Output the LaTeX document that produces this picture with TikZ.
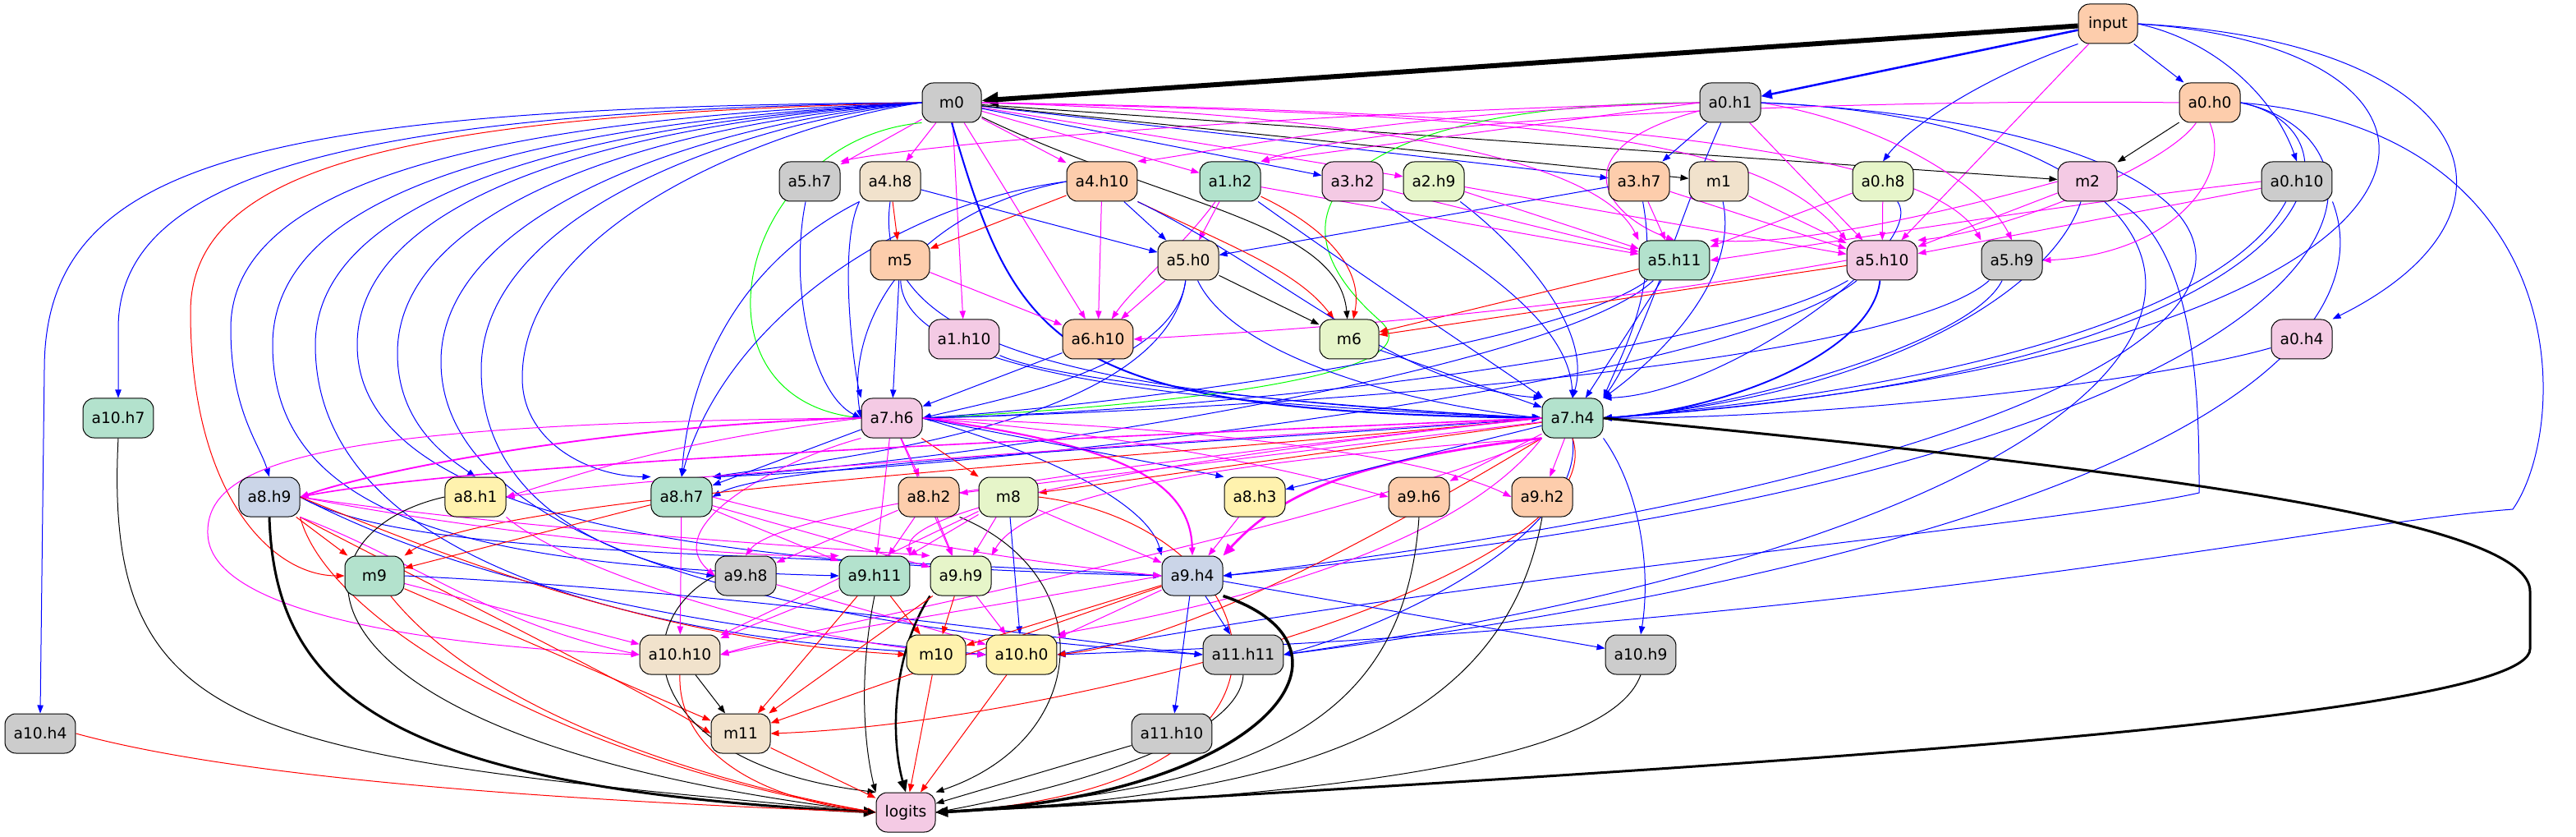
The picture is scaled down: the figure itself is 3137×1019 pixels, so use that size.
\documentclass[tikz,border=0pt]{standalone}
\usepackage{fontspec}
\setmainfont{DejaVu Sans}
\usetikzlibrary{arrows.meta}
\definecolor{pA}{HTML}{B3E2CD}
\definecolor{pB}{HTML}{FDCDAC}
\definecolor{pC}{HTML}{CBD5E8}
\definecolor{pD}{HTML}{F4CAE4}
\definecolor{pE}{HTML}{E6F5C9}
\definecolor{pF}{HTML}{FFF2AE}
\definecolor{pG}{HTML}{F1E2CC}
\definecolor{pH}{HTML}{CCCCCC}
\definecolor{cM}{RGB}{255,0,255}
\definecolor{cB}{RGB}{0,0,255}
\definecolor{cR}{RGB}{255,0,0}
\definecolor{cG}{RGB}{0,255,0}
\pgfdeclarelayer{bg}
\pgfsetlayers{bg,main}
\tikzset{
  nd/.style={draw=black, line width=0.75pt, rounded corners=10pt, minimum width=54pt, minimum height=36pt, inner xsep=7.9pt, inner ysep=0pt, font=\fontsize{14}{16}\selectfont},
  e/.style={-{Triangle[length=7.5pt,width=5.5pt]}, line width=0.75pt},
  eb/.style={e, draw=cB},
  em/.style={e, draw=cM},
  er/.style={e, draw=cR},
  ek/.style={e, draw=black},
  eg/.style={e, draw=cG},
  big/.style={-{Triangle[length=11pt,width=9pt]}},
}
\begin{document}
\begin{tikzpicture}[x=0.75pt,y=0.75pt]
\useasboundingbox (0,-1019) rectangle (3137,0);
% nodes
\node[nd,fill=pB] (input) at (2567,-29) {input};
\node[nd,fill=pH] (m0) at (1159,-125) {m0};
\node[nd,fill=pH] (a0h1) at (2107,-125) {a0.h1};
\node[nd,fill=pB] (a0h0) at (2691,-125) {a0.h0};
\node[nd,fill=pH] (a5h7) at (986,-221) {a5.h7};
\node[nd,fill=pG] (a4h8) at (1084,-221) {a4.h8};
\node[nd,fill=pB] (a4h10) at (1342,-221) {a4.h10};
\node[nd,fill=pA] (a1h2) at (1498,-221) {a1.h2};
\node[nd,fill=pD] (a3h2) at (1647,-221) {a3.h2};
\node[nd,fill=pE] (a2h9) at (1746,-221) {a2.h9};
\node[nd,fill=pB] (a3h7) at (1996,-221) {a3.h7};
\node[nd,fill=pG] (m1) at (2093,-221) {m1};
\node[nd,fill=pE] (a0h8) at (2293,-221) {a0.h8};
\node[nd,fill=pD] (m2) at (2542,-221) {m2};
\node[nd,fill=pH] (a0h10) at (2797,-221) {a0.h10};
\node[nd,fill=pB] (m5) at (1096,-317) {m5};
\node[nd,fill=pG] (a5h0) at (1447,-317) {a5.h0};
\node[nd,fill=pA] (a5h11) at (2039,-317) {a5.h11};
\node[nd,fill=pD] (a5h10) at (2292,-317) {a5.h10};
\node[nd,fill=pH] (a5h9) at (2450,-317) {a5.h9};
\node[nd,fill=pD] (a1h10) at (1174,-413) {a1.h10};
\node[nd,fill=pB] (a6h10) at (1337,-413) {a6.h10};
\node[nd,fill=pE] (m6) at (1643,-413) {m6};
\node[nd,fill=pD] (a0h4) at (2803,-413) {a0.h4};
\node[nd,fill=pA] (a10h7) at (144,-509) {a10.h7};
\node[nd,fill=pD] (a7h6) at (1086,-509) {a7.h6};
\node[nd,fill=pA] (a7h4) at (1915,-509) {a7.h4};
\node[nd,fill=pC] (a8h9) at (328,-605) {a8.h9};
\node[nd,fill=pF] (a8h1) at (579,-605) {a8.h1};
\node[nd,fill=pA] (a8h7) at (830,-605) {a8.h7};
\node[nd,fill=pB] (a8h2) at (1131,-605) {a8.h2};
\node[nd,fill=pE] (m8) at (1228,-605) {m8};
\node[nd,fill=pF] (a8h3) at (1528,-605) {a8.h3};
\node[nd,fill=pB] (a9h6) at (1728,-605) {a9.h6};
\node[nd,fill=pB] (a9h2) at (1878,-605) {a9.h2};
\node[nd,fill=pA] (m9) at (456,-701) {m9};
\node[nd,fill=pH] (a9h8) at (908,-701) {a9.h8};
\node[nd,fill=pA] (a9h11) at (1065,-701) {a9.h11};
\node[nd,fill=pE] (a9h9) at (1170,-701) {a9.h9};
\node[nd,fill=pC] (a9h4) at (1452,-701) {a9.h4};
\node[nd,fill=pG] (a10h10) at (828,-797) {a10.h10};
\node[nd,fill=pF] (m10) at (1140,-797) {m10};
\node[nd,fill=pF] (a10h0) at (1244,-797) {a10.h0};
\node[nd,fill=pH] (a11h11) at (1514,-797) {a11.h11};
\node[nd,fill=pH] (a10h9) at (1998,-797) {a10.h9};
\node[nd,fill=pH] (a10h4) at (49,-893) {a10.h4};
\node[nd,fill=pG] (m11) at (902,-893) {m11};
\node[nd,fill=pH] (a11h10) at (1427,-893) {a11.h10};
\node[nd,fill=pD] (logits) at (1103,-989) {logits};

\begin{pgfonlayer}{bg}
% input
\draw[ek, line width=4.5pt, -{Triangle[length=15pt,width=13pt]}] (input) -- (m0);
\draw[eb, line width=1.9pt, -{Triangle[length=10pt,width=8.5pt]}] (input) -- (a0h1);
\draw[eb] (input) -- (a0h0);
\draw[eb] (input.south west) .. controls (2400,-100) and (2320,-160) .. (a0h8.north);
\draw[em] (input) -- (a5h10);
\draw[eb] (input.east) .. controls (2700,-50) and (2770,-120) .. (a0h10.north);
\draw[eb] (input.east) .. controls (3020,-50) and (3100,-260) .. (a0h4.north east);
\draw[eb] (input.east) .. controls (3080,-60) and (3050,-430) .. (a7h4.east);
% m0 top
\foreach \t in {a5h7,a4h8,a4h10,a1h2,a2h9,a1h10,a6h10} \draw[em] (m0) -- (\t);
\foreach \t in {a3h2,a3h7} \draw[eb] (m0) -- (\t);
\draw[ek] (m0) -- (m1);
\draw[ek] (m0) -- (m2);
\draw[ek] (m0) .. controls (1420,-250) and (1630,-270) .. (m6);
\draw[eb, line width=1.5pt, -{Triangle[length=9pt,width=7.5pt]}] (m0.south) .. controls (1240,-430) and (1290,-500) .. (a7h4.west);
\draw[em] (m0.east) .. controls (1900,-140) and (2150,-170) .. (a5h10.north west);
\draw[em] (m0.east) .. controls (1700,-140) and (1950,-200) .. (a5h11.north west);
\draw[em] (m0.east) .. controls (1900,-135) and (2350,-180) .. (a5h9.north west);
\draw[eg] (m0.south west) .. controls (900,-170) and (830,-480) .. (a7h6.west);
% m0 left
\draw[eb] (m0.west) .. controls (300,-130) and (54,-200) .. (54,-450) -- (a10h4.north);
\draw[eb] (m0.west) .. controls (400,-135) and (144,-220) .. (144,-400) -- (a10h7.north);
\draw[er] (m0.west) .. controls (500,-140) and (232,-200) .. (232,-380) .. controls (232,-600) and (330,-701) .. (m9.west);
\draw[eb] (m0.west) .. controls (600,-145) and (281,-220) .. (281,-400) .. controls (281,-500) and (316,-540) .. (a8h9.north);
\draw[eb] (m0.west) .. controls (650,-150) and (332,-230) .. (332,-420) .. controls (332,-640) and (600,-690) .. (a9h11.west);
\draw[eb] (m0.west) .. controls (700,-150) and (384,-240) .. (384,-420) .. controls (384,-720) and (900,-790) .. (a10h0.west);
\draw[eb] (m0.west) .. controls (750,-150) and (435,-240) .. (435,-420) .. controls (435,-660) and (1000,-690) .. (a9h4.west);
\draw[eb] (m0.west) .. controls (800,-150) and (484,-250) .. (484,-430) .. controls (484,-520) and (550,-560) .. (a8h1.north);
\draw[eb] (m0.west) .. controls (850,-150) and (537,-260) .. (537,-440) .. controls (537,-720) and (1200,-780) .. (a11h11.west);
\draw[eb] (m0.west) .. controls (900,-150) and (586,-260) .. (586,-450) .. controls (586,-640) and (800,-690) .. (a9h8.west);
\draw[eb] (m0.west) .. controls (950,-150) and (636,-270) .. (636,-460) .. controls (636,-540) and (720,-580) .. (a8h7.north west);
% a0h1
\draw[eb] (a0h1) -- (a3h7);
\draw[eg] (a0h1.west) .. controls (1650,-125) and (1520,-250) .. (1680,-390) .. controls (1760,-460) and (1400,-495) .. (a7h6.east);
\draw[em] (a0h1.west) .. controls (1700,-135) and (1450,-190) .. (a4h10.north east);
\draw[em] (a0h1.west) -- (a1h2.north east);
\draw[em] (a0h1.west) .. controls (1500,-140) and (1100,-180) .. (a5h7.north east);
\draw[em] (a0h1) .. controls (1900,-180) and (1950,-260) .. (a5h11.north);
\draw[em] (a0h1) -- (a5h10);
\draw[em] (a0h1.east) .. controls (2300,-150) and (2420,-230) .. (a5h9.north);
\draw[eb] (a0h1) .. controls (2050,-250) and (2000,-420) .. (a7h4.north east);
\draw[eb] (a0h1.east) .. controls (2900,-160) and (2980,-520) .. (a9h4.east);
\draw[eb] (a0h1.east) .. controls (2800,-150) and (2900,-600) .. (a11h11.east);
% a0h0
\draw[ek] (a0h0) -- (m2);
\draw[em] (a0h0) .. controls (2640,-200) and (2450,-280) .. (a5h10.north east);
\draw[em] (a0h0.south) .. controls (2720,-220) and (2640,-310) .. (a5h9.east);
\draw[em] (a0h0.west) .. controls (2300,-120) and (1700,-140) .. (a1h2.north east);
\draw[eb] (a0h0.east) .. controls (2900,-160) and (2850,-450) .. (a7h4.east);
\draw[eb] (a0h0.east) .. controls (3140,-160) and (3130,-520) .. (3060,-620) .. controls (2800,-640) and (2300,-760) .. (a10h0.east);
\draw[eb] (a0h0.east) .. controls (2950,-170) and (2950,-560) .. (a9h4.east);
% a0h10
\draw[em] (a0h10) -- (a5h10);
\draw[em] (a0h10.west) .. controls (2500,-250) and (2200,-300) .. (a5h11.east);
\draw[eb] (a0h10) .. controls (2700,-400) and (2300,-480) .. (a7h4.east);
\draw[eb] (a0h10.south east) .. controls (2900,-400) and (2700,-650) .. (a11h11.east);
% a0h8
\draw[em] (a0h8) -- (a5h10);
\draw[em] (a0h8) -- (a5h11);
\draw[eb] (a0h8) .. controls (2350,-300) and (2100,-480) .. (a7h4.north east);
% m2
\draw[em] (m2) -- (a5h10);
\draw[em] (m2.west) .. controls (2400,-250) and (2200,-300) .. (a5h11.north east);
\draw[eb] (m2) .. controls (2500,-350) and (2300,-480) .. (a7h4.east);
\draw[eb] (m2.south east) .. controls (2678,-300) and (2678,-500) .. (2678,-600) .. controls (2500,-640) and (1800,-700) .. (a10h0.east);
% m1
\draw[em] (m1) -- (a5h10);
\draw[eb] (m1) .. controls (2120,-350) and (2000,-450) .. (a7h4.north east);
% a3h7
\draw[eb] (a3h7) -- (a5h0);
\draw[em] (a3h7) -- (a5h11);
\draw[em] (a3h7) -- (a5h10);
\draw[eb] (a3h7) .. controls (2020,-350) and (1980,-420) .. (a7h4.north east);
% a2h9
\draw[em] (a2h9) -- (a5h11);
\draw[em] (a2h9) -- (a5h10);
\draw[eb] (a2h9) .. controls (1850,-300) and (1940,-400) .. (a7h4.north);
% a3h2
\draw[em] (a3h2) -- (a5h11);
\draw[eb] (a3h2) .. controls (1760,-300) and (1910,-380) .. (a7h4.north);
% a1h2
\draw[em] (a1h2) -- (a5h0);
\draw[em] (a1h2) .. controls (1440,-300) and (1380,-350) .. (a6h10);
\draw[er] (a1h2) .. controls (1620,-280) and (1660,-330) .. (m6);
\draw[em] (a1h2) -- (a5h11);
\draw[eb] (a1h2) .. controls (1650,-330) and (1800,-430) .. (a7h4);
% a4h10
\draw[er] (a4h10) -- (m5);
\draw[em] (a4h10) -- (a6h10);
\draw[eb] (a4h10) -- (a5h0);
\draw[er] (a4h10.south east) .. controls (1500,-300) and (1580,-330) .. (m6);
\draw[eb] (a4h10.south east) .. controls (1560,-330) and (1700,-470) .. (a7h4.north west);
\draw[eb] (a4h10.west) .. controls (1100,-260) and (1030,-400) .. (a7h6.west);
\draw[eb] (a4h10.west) .. controls (1080,-250) and (880,-400) .. (a8h7.north);
% a4h8
\draw[er] (a4h8) -- (m5);
\draw[eb] (a4h8) -- (a5h0);
\draw[eb] (a4h8.south west) .. controls (1020,-300) and (1040,-450) .. (a7h6.north west);
\draw[eb] (a4h8.south) .. controls (1060,-420) and (1300,-480) .. (a7h4.west);
\draw[eb] (a4h8.south west) .. controls (900,-320) and (840,-450) .. (a8h7.north);
% a5h7
\draw[eb] (a5h7) .. controls (960,-350) and (990,-480) .. (a7h6.west);
% m5
\draw[em] (m5) -- (a6h10);
\draw[eb] (m5) -- (a7h6);
\draw[eb] (m5) .. controls (1100,-450) and (1400,-490) .. (a7h4.west);
% a5h0
\draw[em] (a5h0) -- (a6h10);
\draw[ek] (a5h0) -- (m6);
\draw[eb] (a5h0) .. controls (1430,-450) and (1200,-490) .. (a7h6.east);
\draw[eb] (a5h0) .. controls (1500,-430) and (1700,-490) .. (a7h4.west);
\draw[eb] (a5h0) .. controls (1420,-520) and (1000,-560) .. (a8h7.north east);
% a5h11
\draw[er] (a5h11) -- (m6);
\draw[eb] (a5h11) -- (a7h4);
\draw[eb] (a5h11) .. controls (1900,-420) and (1400,-490) .. (a7h6.east);
\draw[eb] (a5h11) .. controls (1900,-450) and (1200,-560) .. (a8h7.north east);
% a5h10
\draw[er] (a5h10) -- (m6);
\draw[em] (a5h10.west) .. controls (1900,-380) and (1600,-400) .. (a6h10.east);
\draw[eb, line width=1.4pt] (a5h10) .. controls (2280,-430) and (2100,-500) .. (a7h4.east);
\draw[eb] (a5h10) .. controls (2100,-430) and (1500,-500) .. (a7h6.east);
\draw[eb] (a5h10) .. controls (2100,-470) and (1200,-570) .. (a8h7.north east);
% a5h9
\draw[eb] (a5h9) .. controls (2400,-420) and (2100,-500) .. (a7h4.east);
\draw[eb] (a5h9) .. controls (2300,-450) and (1500,-500) .. (a7h6.east);
% row 5
\draw[eb] (a1h10) .. controls (1300,-470) and (1700,-500) .. (a7h4.west);
\draw[eb] (a6h10) -- (a7h6);
\draw[eb] (m6) -- (a7h4);
\draw[eb] (a0h4) .. controls (2600,-470) and (2200,-510) .. (a7h4.east);
% a7h6
\draw[em, line width=1.4pt] (a7h6.west) .. controls (800,-515) and (500,-560) .. (a8h9.east);
\draw[em] (a7h6.west) .. controls (800,-540) and (700,-580) .. (a8h1.east);
\draw[eb] (a7h6) -- (a8h7);
\draw[em] (a7h6) -- (a8h2);
\draw[er] (a7h6) -- (m8);
\draw[em, line width=1.6pt] (a7h6.east) .. controls (1350,-540) and (1450,-580) .. (a9h4.north);
\draw[eb] (a7h6.east) .. controls (1300,-560) and (1400,-620) .. (a9h4.north west);
\draw[eb] (a7h6.east) -- (a8h3.north west);
\draw[em] (a7h6.east) .. controls (1400,-530) and (1600,-580) .. (a9h6.west);
\draw[em] (a7h6.east) .. controls (1500,-520) and (1750,-560) .. (a9h2.west);
\draw[em] (a7h6) -- (a9h9);
\draw[em] (a7h6) -- (a9h11);
\draw[em] (a7h6.south west) .. controls (950,-560) and (800,-640) .. (a9h8.west);
\draw[em] (a7h6.west) .. controls (400,-515) and (250,-560) .. (253,-650) .. controls (256,-760) and (600,-790) .. (a10h10.west);
% a7h4
\draw[ek, line width=2.25pt, big] (a7h4.east) .. controls (2700,-580) and (3081,-640) .. (3081,-720) -- (3081,-790) .. controls (3081,-880) and (2000,-940) .. (logits.east);
\draw[em, line width=2pt, big] (a7h4.south west) .. controls (1650,-560) and (1560,-600) .. (a9h4.north east);
\draw[eb] (a7h4.west) .. controls (1500,-540) and (950,-560) .. (a8h7.east);
\draw[em, line width=1.2pt] (a7h4.west) .. controls (1400,-530) and (600,-560) .. (a8h9.east);
\draw[em] (a7h4.west) .. controls (1400,-540) and (800,-580) .. (a8h1.east);
\draw[eb] (a7h4) -- (a8h3);
\draw[er] (a7h4) -- (m8);
\draw[em] (a7h4) -- (a8h2);
\draw[em] (a7h4) -- (a9h6);
\draw[em] (a7h4) -- (a9h2);
\draw[eb] (a7h4.south east) .. controls (2000,-600) and (2010,-700) .. (a10h9.north);
\draw[eb] (a7h4.south) .. controls (1930,-650) and (1700,-760) .. (a11h11.east);
\draw[er] (a7h4.south) .. controls (1970,-700) and (1300,-880) .. (m11.east);
\draw[er] (a7h4.west) .. controls (1400,-560) and (600,-600) .. (m9.north east);
\draw[er] (a7h4.south west) .. controls (1700,-640) and (1450,-780) .. (a10h0.east);
\draw[em] (a7h4.south west) .. controls (1500,-560) and (1250,-600) .. (a9h9.north east);
\draw[em] (a7h4.west) .. controls (1400,-560) and (1100,-620) .. (a9h11.north east);
\draw[em] (a7h4.south west) .. controls (1600,-650) and (1000,-760) .. (a10h10.east);
\draw[em] (a7h4.west) .. controls (1400,-560) and (950,-620) .. (a9h8.north);
\draw[em] (a7h4.south west) .. controls (1750,-700) and (1350,-760) .. (a10h0.north east);
% a8h9
\draw[ek, line width=2.25pt, big] (a8h9.south) .. controls (335,-850) and (480,-960) .. (logits.west);
\draw[er] (a8h9) -- (m9);
\draw[er] (a8h9.south east) .. controls (500,-700) and (800,-850) .. (m11.west);
\draw[er] (a8h9.south east) .. controls (400,-760) and (700,-930) .. (logits.west);
\draw[em] (a8h9.south east) .. controls (500,-680) and (600,-760) .. (a10h10.west);
\draw[em] (a8h9.east) .. controls (600,-640) and (900,-660) .. (a9h9.north west);
\draw[em] (a8h9.east) .. controls (600,-650) and (900,-680) .. (a9h11.north west);
\draw[eb] (a8h9.east) .. controls (500,-680) and (900,-670) .. (a9h4.west);
\draw[eb] (a8h9.east) .. controls (550,-700) and (800,-760) .. (a10h0.west);
\draw[er] (a8h9.east) .. controls (550,-680) and (800,-780) .. (m10.west);
% a8h1
\draw[ek] (a8h1.west) .. controls (340,-650) and (330,-900) .. (logits.west);
\draw[em] (a8h1.south east) .. controls (700,-700) and (1000,-790) .. (a10h0.west);
% a8h7
\draw[er] (a8h7) -- (m9);
\draw[em] (a8h7) -- (a10h10);
\draw[em] (a8h7) -- (a9h11);
\draw[em] (a8h7) -- (a9h9);
\draw[em] (a8h7.east) .. controls (1000,-640) and (1200,-680) .. (a9h4.west);
% a8h2
\draw[em] (a8h2) -- (a9h11);
\draw[em] (a8h2) -- (a9h9);
\draw[em] (a8h2) -- (a9h8);
\draw[ek] (a8h2.south east) .. controls (1340,-700) and (1330,-900) .. (logits.north east);
% m8
\draw[em] (m8) -- (a9h9);
\draw[em] (m8) -- (a9h11);
\draw[eb] (m8) -- (a10h0);
\draw[em] (m8) -- (a9h4);
\draw[er] (m8.east) .. controls (1550,-640) and (1650,-960) .. (logits.east);
\draw[em] (m8) -- (a10h10);
% a8h3, a9h6, a9h2
\draw[em] (a8h3) -- (a9h4);
\draw[ek] (a9h6.south) .. controls (1710,-900) and (1500,-960) .. (logits.east);
\draw[ek] (a9h2.south) .. controls (1830,-900) and (1550,-970) .. (logits.east);
% m9
\draw[em] (m9) -- (a10h10);
\draw[er] (m9) -- (m11);
\draw[er] (m9) .. controls (600,-880) and (900,-960) .. (logits.west);
\draw[eb] (m9.east) .. controls (900,-720) and (1300,-780) .. (a11h11.west);
% a9h8
\draw[ek] (a9h8.west) .. controls (760,-760) and (780,-930) .. (logits.north west);
\draw[em] (a9h8) -- (a10h0);
% a9h11
\draw[ek] (a9h11.south) .. controls (1040,-850) and (1060,-940) .. (logits.north west);
\draw[er] (a9h11) -- (m11);
\draw[er] (a9h11) -- (m10);
\draw[em] (a9h11) -- (a10h10);
% a9h9
\draw[ek, line width=1.9pt, big] (a9h9.south west) .. controls (1085,-800) and (1085,-900) .. (logits.north);
\draw[er] (a9h9) -- (m10);
\draw[em] (a9h9) -- (a10h0);
\draw[er] (a9h9) -- (m11);
% a9h4
\draw[ek, line width=2.6pt, big] (a9h4.south east) .. controls (1680,-790) and (1540,-970) .. (logits.east);
\draw[eb] (a9h4) -- (a11h10);
\draw[eb] (a9h4) -- (a11h11);
\draw[eb] (a9h4) -- (a10h9);
\draw[em] (a9h4) -- (a10h0);
\draw[em] (a9h4.west) .. controls (1200,-740) and (1000,-770) .. (a10h10.east);
\draw[er] (a9h4) -- (m11);
\draw[er] (a9h4) -- (m10);
% bottom
\draw[ek] (a10h10) -- (m11);
\draw[er] (a10h10.south) .. controls (825,-900) and (900,-970) .. (logits.west);
\draw[er] (m10) -- (logits);
\draw[er] (a10h0) -- (logits);
\draw[er] (m11) -- (logits);
\draw[ek] (a11h11.south) .. controls (1510,-900) and (1300,-960) .. (logits.east);
\draw[ek] (a11h10) -- (logits);
\draw[ek] (a10h9.south) .. controls (1960,-930) and (1600,-970) .. (logits.east);
\draw[er] (a10h4.east) .. controls (300,-950) and (700,-975) .. (logits.west);
\draw[ek] (a10h7.south) .. controls (125,-900) and (300,-920) .. (logits.west);
\end{pgfonlayer}
\end{tikzpicture}
\end{document}
